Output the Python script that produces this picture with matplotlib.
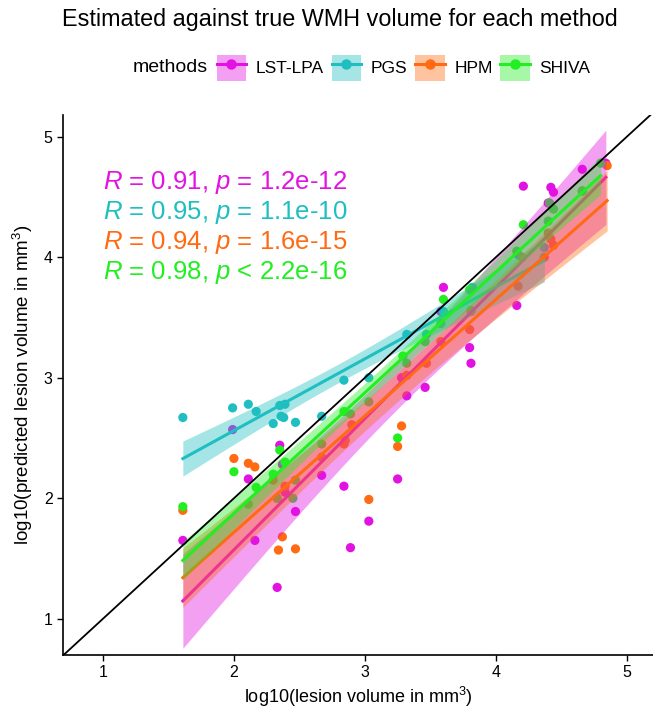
import numpy as np
import matplotlib.pyplot as plt
from matplotlib.patches import Patch
from matplotlib.lines import Line2D

plt.rcParams['font.family'] = ['Liberation Sans', 'DejaVu Sans']
plt.rcParams['mathtext.fontset'] = 'custom'
plt.rcParams['mathtext.rm'] = 'Liberation Sans'
plt.rcParams['mathtext.it'] = 'Liberation Sans:italic'

methods = ["LST-LPA", "PGS", "HPM", "SHIVA"]
colors = ["#E212E2", "#1FBFC1", "#FF6A12", "#22EE22"]

lst_x = [1.61, 1.99, 2.11, 2.16, 2.33, 2.35, 2.37, 2.39, 2.47, 2.67, 2.84, 2.89, 3.03, 3.25,
         3.28, 3.32, 3.46, 3.58, 3.60, 3.80, 3.81, 4.16, 4.21, 4.40, 4.42, 4.44, 4.66, 4.84]
lst_y = [1.65, 2.57, 2.16, 1.65, 1.26, 2.44, 2.28, 2.05, 1.89, 2.19, 2.10, 1.59, 1.81, 2.16,
         3.00, 2.85, 2.92, 3.55, 3.75, 3.25, 3.12, 3.60, 4.59, 4.45, 4.58, 4.54, 4.73, 4.78]

pgs_x = [1.61, 1.99, 2.11, 2.17, 2.30, 2.35, 2.36, 2.38, 2.39, 2.47, 2.67, 2.84, 3.03, 3.32,
         3.47, 3.60, 3.82, 4.17, 4.37]
pgs_y = [2.67, 2.75, 2.78, 2.72, 2.62, 2.77, 2.68, 2.67, 2.78, 2.63, 2.68, 2.98, 3.00, 3.36,
         3.36, 3.55, 3.75, 4.02, 4.08]

hpm_x = [1.61, 2.00, 2.11, 2.16, 2.30, 2.33, 2.34, 2.37, 2.39, 2.47, 2.67, 2.84, 2.85, 2.90,
         3.03, 3.25, 3.28, 3.32, 3.47, 3.58, 3.80, 3.81, 4.17, 4.20, 4.37, 4.40, 4.42, 4.44,
         4.66, 4.85]
hpm_y = [1.90, 2.33, 2.29, 2.26, 2.15, 2.00, 1.57, 1.68, 2.10, 1.58, 2.34, 2.45, 2.48, 2.61,
         1.99, 2.43, 2.60, 3.02, 3.12, 3.30, 3.40, 3.55, 3.76, 4.00, 4.00, 4.20, 4.15, 4.10,
         4.55, 4.76]

shiva_x = [1.61, 2.00, 2.11, 2.17, 2.30, 2.33, 2.35, 2.39, 2.45, 2.47, 2.67, 2.84, 2.89, 3.03,
           3.25, 3.29, 3.32, 3.46, 3.58, 3.60, 3.80, 3.81, 4.16, 4.21, 4.40, 4.41, 4.44, 4.66,
           4.80]
shiva_y = [1.93, 2.22, 1.95, 2.09, 2.20, 2.00, 2.40, 2.30, 2.00, 2.15, 2.45, 2.72, 2.70, 2.80,
           2.50, 3.18, 3.12, 3.30, 3.45, 3.65, 3.73, 3.56, 4.05, 4.27, 4.30, 4.45, 4.40, 4.55,
           4.78]

all_x = [lst_x, pgs_x, hpm_x, shiva_x]
all_y = [lst_y, pgs_y, hpm_y, shiva_y]

stat_labels = [r"$\mathit{R}$ = 0.91, $\mathit{p}$ = 1.2e-12",
               r"$\mathit{R}$ = 0.95, $\mathit{p}$ = 1.1e-10",
               r"$\mathit{R}$ = 0.94, $\mathit{p}$ = 1.6e-15",
               r"$\mathit{R}$ = 0.98, $\mathit{p}$ < 2.2e-16"]
label_y = [4.62, 4.37, 4.12, 3.87]


def t975(df):
    z = 1.959964
    return z + (z**3 + z) / (4 * df) + (5 * z**5 + 16 * z**3 + 3 * z) / (96 * df**2)


fig = plt.figure(figsize=(6.53, 7.08), dpi=100)
ax = fig.add_axes([0.0965, 0.075, 0.9035, 0.7625])

# points first
for xs, ys, c in zip(all_x, all_y, colors):
    ax.scatter(xs, ys, s=44, color=c, edgecolors='none', zorder=2)

# regression lines with 95% confidence bands
for xs, ys, c in zip(all_x, all_y, colors):
    x = np.array(xs)
    y = np.array(ys)
    n = len(x)
    b1, b0 = np.polyfit(x, y, 1)
    grid = np.linspace(x.min(), x.max(), 80)
    fit = b0 + b1 * grid
    s = np.sqrt(np.sum((y - (b0 + b1 * x)) ** 2) / (n - 2))
    sxx = np.sum((x - x.mean()) ** 2)
    se = s * np.sqrt(1 / n + (grid - x.mean()) ** 2 / sxx)
    band = t975(n - 2) * se
    ax.fill_between(grid, fit - band, fit + band, color=c, alpha=0.4, linewidth=0, zorder=3)
    ax.plot(grid, fit, color=c, lw=2.2, zorder=3)

ax.axline((1, 1), slope=1, color='black', lw=1.3, zorder=4)

for lab, yy, c in zip(stat_labels, label_y, colors):
    ax.text(1.0, yy, lab, color=c, fontsize=18.5, va='center', ha='left')

ax.set_xlim(0.695, 5.2)
ax.set_ylim(0.70, 5.18)
ax.set_xticks([1, 2, 3, 4, 5])
ax.set_yticks([1, 2, 3, 4, 5])
ax.tick_params(labelsize=11.5, length=4, width=1, colors='black')
for side in ['top', 'right']:
    ax.spines[side].set_visible(False)
for side in ['left', 'bottom']:
    ax.spines[side].set_linewidth(1.2)

ax.set_xlabel("log10(lesion volume in mm$^{3}$)", fontsize=13, labelpad=3)
ax.set_ylabel("log10(predicted lesion volume in mm$^{3}$)", fontsize=13.5, labelpad=6)

fig.text(0.521, 0.972, "Estimated against true WMH volume for each method",
         ha='center', va='center', fontsize=16.8)

handles = [(Patch(facecolor=c, alpha=0.4, edgecolor='none'),
            Line2D([], [], color=c, lw=2.2, marker='o', markersize=6.5)) for c in colors]
fig.legend(handles, methods, ncol=4, loc='center', bbox_to_anchor=(0.618, 0.904),
           frameon=False, fontsize=12.5, handlelength=1.7, handleheight=2.0,
           handletextpad=0.55, columnspacing=0.45)
fig.text(0.318, 0.904, "methods", ha='right', va='center', fontsize=14)

fig.savefig("out.png", dpi=100)
